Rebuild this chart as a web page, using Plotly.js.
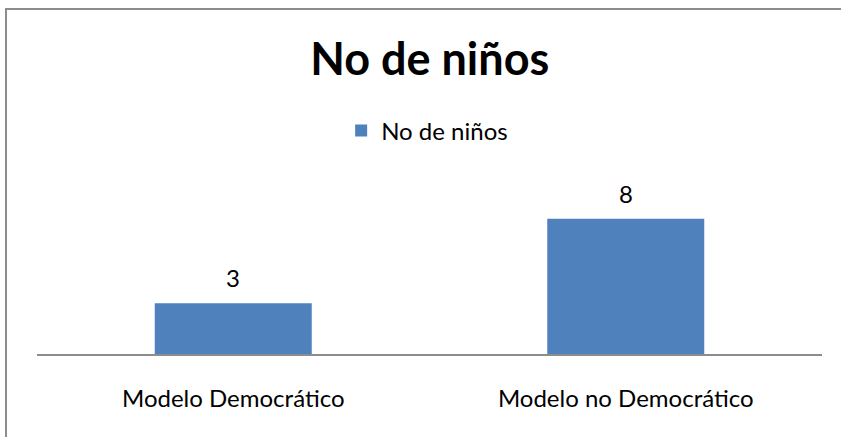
<!DOCTYPE html>
<html><head><meta charset="utf-8">
<script src="https://cdn.plot.ly/plotly-3.0.1.min.js"></script>
<style>html,body{margin:0;padding:0;background:#fff;overflow:hidden}
#wrap{position:relative;width:841px;height:437px;overflow:hidden}
#chart{position:absolute;left:0;top:0;width:841px;height:437px}
#frame{position:absolute;left:5px;top:8px;width:836px;height:429px;border-top:2px solid #8c8c8c;border-left:2px solid #8c8c8c;pointer-events:none;box-sizing:border-box}</style>
</head><body>
<div id="wrap"><div id="chart"></div><div id="frame"></div></div>
<script>
const categories = ["Modelo Democrático", "Modelo no Democrático"];
const values = [3, 8];
const seriesName = "No de niños";
const titleText = "No de niños";

const fontFam = "Lato, 'Open Sans', sans-serif";
const trace = {
  type: "bar", x: categories, y: values, name: seriesName,
  marker: {color: "#4F81BD"}, showlegend: true, hoverinfo: "none"
};
const annotations = categories.map((c, i) => ({
  x: c, y: values[i], xref: "x", yref: "y", text: String(values[i]),
  showarrow: false, yanchor: "bottom", yshift: 9,
  font: {family: fontFam, size: 24, color: "#000"}
}));
const layout = {
  width: 841, height: 437,
  margin: {l: 37, r: 19, t: 185, b: 83},
  paper_bgcolor: "#fff", plot_bgcolor: "#fff",
  title: {text: "<b>" + titleText + "</b>", x: 0.511, xanchor: "center", y: 0.865, yanchor: "middle", yref: "container",
    font: {family: fontFam, size: 45, color: "#000"}},
  legend: {orientation: "h", x: 0.497, xanchor: "center", y: 1.32, yanchor: "middle",
    font: {family: fontFam, size: 24, color: "#000"}},
  bargap: 0.6,
  xaxis: {showline: true, linecolor: "#8c8c8c", linewidth: 2, ticks: "", showgrid: false,
    tickfont: {family: fontFam, size: 24, color: "#000"}, ticklabelstandoff: 22, fixedrange: true},
  yaxis: {range: [0, 10], visible: false, showgrid: false, zeroline: false, fixedrange: true},
  annotations: annotations
};
Plotly.newPlot("chart", [trace], layout, {displayModeBar: false, staticPlot: true});
</script>
</body></html>
